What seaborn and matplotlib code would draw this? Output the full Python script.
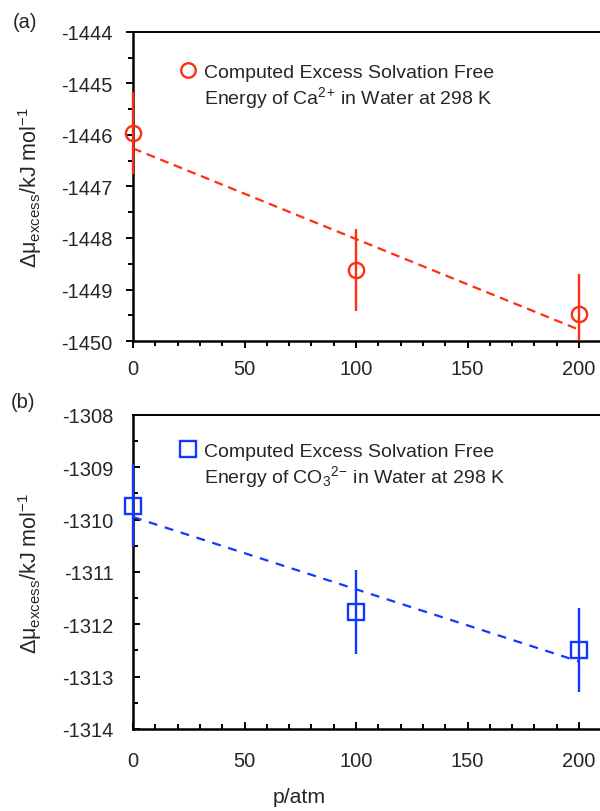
import matplotlib
matplotlib.use("Agg")
import matplotlib.pyplot as plt
import seaborn as sns
from matplotlib.lines import Line2D
from matplotlib.ticker import MultipleLocator
from matplotlib.transforms import Bbox, TransformedBbox

# pressure points (atm) and computed excess solvation free energies (kJ/mol)
pressure = [0, 100, 200]
ca_mu = [-1445.96, -1448.62, -1449.48]
ca_err = [0.80, 0.79, 0.78]
co3_mu = [-1309.73, -1311.77, -1312.49]
co3_err = [0.80, 0.80, 0.80]

x_ticks = [0, 50, 100, 150, 200]
ca_yticks = [-1450, -1449, -1448, -1447, -1446, -1445, -1444]
co3_yticks = [-1314, -1313, -1312, -1311, -1310, -1309, -1308]

ca_label = ["Computed Excess Solvation Free",
            "Energy of Ca$^{2}$$^{+}$ in Water at 298 K"]
co3_label = ["Computed Excess Solvation Free",
             "Energy of CO$_{3}$$^{2}$$^{\u2212}$ in Water at 298 K"]

RED = "#FF2E12"
BLUE = "#1238FF"

sns.set_style("ticks")
plt.rcParams["font.family"] = ["Liberation Sans", "DejaVu Sans"]
plt.rcParams["mathtext.fontset"] = "custom"
plt.rcParams["mathtext.rm"] = "Liberation Sans"
plt.rcParams["mathtext.it"] = "Liberation Sans"
plt.rcParams["mathtext.default"] = "regular"

TICK_FS = 14.5
LEG_FS = 14.0
LAB_FS = 15.5

fig = plt.figure(figsize=(6, 8.12), dpi=100)
ax_a = fig.add_axes([0.2217, 0.5788, 0.7783, 0.3806])
ax_b = fig.add_axes([0.2217, 0.1010, 0.7783, 0.3867])


def panel(ax, y, err, yticks, color, marker, ms, dash, label, tickdir_x, tickdir_y, xpad, legend_top):
    # least-squares trend line through the three points
    sns.regplot(x=pressure, y=y, ax=ax, scatter=False, ci=None, truncate=True,
                color=color, line_kws=dict(ls=(0, dash), lw=1.6, zorder=3))
    bars = ax.errorbar(pressure, y, yerr=err, fmt="none", ecolor=color, elinewidth=1.7,
                       capsize=0, zorder=5)
    # error bars may overlap the y axis spine but stay clipped vertically
    clip = TransformedBbox(Bbox([[-0.05, 0.0], [1.05, 1.0]]), ax.transAxes)
    for coll in bars.lines[2]:
        coll.set_clip_box(clip)
    ax.plot(pressure, y, ls="none", marker=marker, ms=ms, mfc="none", mec=color,
            mew=1.7, clip_on=False, zorder=6)

    ax.set_xlim(0, 209.4)
    ax.set_ylim(yticks[0], yticks[-1])
    ax.set_xticks(x_ticks)
    ax.set_yticks(yticks)
    ax.set_yticklabels([str(t) for t in yticks])
    ax.xaxis.set_minor_locator(MultipleLocator(10))
    ax.yaxis.set_minor_locator(MultipleLocator(0.5))
    ax.tick_params(axis="x", which="both", direction=tickdir_x, labelsize=TICK_FS,
                   pad=xpad, width=1.4, color="black")
    ax.tick_params(axis="y", which="both", direction=tickdir_y, labelsize=TICK_FS,
                   pad=10 if tickdir_y == "out" else 14, width=1.4, color="black")
    ax.tick_params(which="major", length=5)
    ax.tick_params(which="minor", length=3.5)

    for side in ["left", "bottom"]:
        ax.spines[side].set_linewidth(1.8)
        ax.spines[side].set_color("black")
    ax.spines["top"].set_linewidth(1.4)
    ax.spines["top"].set_color("black")
    ax.spines["right"].set_visible(False)

    ax.set_ylabel("\u0394\u03bc$_{excess}$/kJ mol$^{-1}$", fontsize=LAB_FS)
    ax.yaxis.set_label_coords(-0.19, 0.5)

    handles = [Line2D([], [], ls="none", marker=marker, ms=ms * 0.95, mfc="none",
                      mec=color, mew=1.7),
               Line2D([], [], ls="none")]
    ax.legend(handles, label, loc="upper left", frameon=False, fontsize=LEG_FS,
              bbox_to_anchor=(178 / 600, legend_top), bbox_transform=fig.transFigure,
              borderpad=0, borderaxespad=0, handlelength=1.0, handletextpad=0.32,
              labelspacing=0.2)


panel(ax_a, ca_mu, ca_err, ca_yticks, RED, "o", 11, (4, 2.6), ca_label,
      "out", "out", 8, 1 - 64 / 812)
panel(ax_b, co3_mu, co3_err, co3_yticks, BLUE, "s", 11.5, (4, 3.5), co3_label,
      "in", "in", 16, 1 - 443 / 812)

fig.text(25 / 600, 1 - 22 / 812, "(a)", ha="center", va="center", fontsize=TICK_FS)
fig.text(23 / 600, 1 - 403 / 812, "(b)", ha="center", va="center", fontsize=TICK_FS)
fig.text(299 / 600, 1 - 798 / 812, "p/atm", ha="center", va="center", fontsize=15.3)

fig.savefig("out.png", dpi=100)
